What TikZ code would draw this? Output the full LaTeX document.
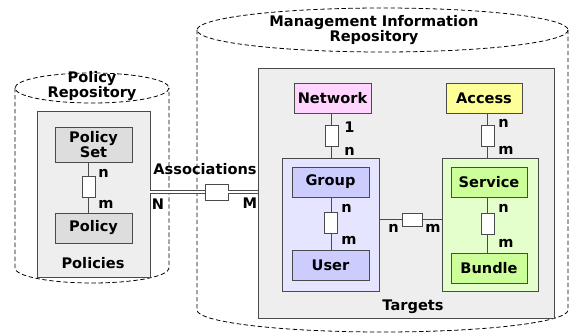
\documentclass[tikz,border=0pt]{standalone}
\usepackage{fontspec}
\setmainfont{DejaVu Sans}
\usepackage{xcolor}
\usepackage{tikz}

\definecolor{edge}{HTML}{4A4A4A}
\definecolor{panel}{HTML}{EEEEEE}
\definecolor{graybox}{HTML}{DDDDDD}
\definecolor{pinkbox}{HTML}{FFD5FF}
\definecolor{yellowbox}{HTML}{FFFF99}
\definecolor{bluepanel}{HTML}{E5E5FF}
\definecolor{bluebox}{HTML}{CCCCFF}
\definecolor{greenpanel}{HTML}{E5FFCC}
\definecolor{greenbox}{HTML}{CCFF99}

\tikzset{
    repo/.style={line width=0.45pt, dash pattern=on 2.5pt off 1.5pt},
    panel/.style={draw=edge, line width=0.5pt, inner sep=0pt},
    entity/.style={draw=edge, line width=0.5pt, align=center, inner sep=0pt,
        minimum width=1.54cm, minimum height=0.6cm},
    linkbox/.style={draw=edge, fill=white, line width=0.5pt, inner sep=0pt,
        minimum width=0.26cm, minimum height=0.42cm},
    card/.style={anchor=west, inner sep=0pt},
    wire/.style={draw=edge, line width=0.5pt},
}

\begin{document}
\begin{tikzpicture}[x=0.02cm, y=-0.02cm, font=\fontsize{8.3}{8.8}\selectfont\bfseries]
    \useasboundingbox (0, 0) rectangle (571, 334);

    % repositories
    \draw[repo] (92, 88) ellipse [x radius=77, y radius=15];
    \draw[repo] (15, 88) -- (15, 268) arc[start angle=180, end angle=0, x radius=77, y radius=15] -- (169, 88);
    \draw[repo] (382.5, 30) ellipse [x radius=185.5, y radius=22];
    \draw[repo] (197, 30) -- (197, 310) arc[start angle=180, end angle=0, x radius=185.5, y radius=22] -- (568, 30);

    \node[align=center] at (92, 86) (prtitle) {Policy\\Repository};
    \node[align=center] at (374, 30) (mirtitle) {Management Information\\Repository};

    % policies
    \node[panel, fill=panel, minimum width=2.26cm, minimum height=3.32cm] at (93.5, 194) (policies) {};
    \node[entity, fill=graybox, minimum height=0.7cm] at (93.5, 144.5) (set) {Policy\\Set};
    \node[entity, fill=graybox] at (93.5, 228) (policy) {Policy};
    \node[linkbox] at (88.5, 186.5) (setlink) {};
    \node[] at (93, 263) (poltext) {Policies};

    \draw[wire] (setlink) -- (setlink |- set.south);
    \draw[wire] (setlink) -- (setlink |- policy.north);
    \node[card] at (98, 173) (setn) {n};
    \node[card] at (98, 204) (setm) {m};

    % targets
    \node[panel, fill=panel, minimum width=5.92cm, minimum height=5cm] at (406, 193) (targets) {};
    \node[] at (413, 307) (tartext) {Targets};

    \node[entity, fill=pinkbox] at (332.5, 98) (network) {Network};
    \node[entity, fill=yellowbox, minimum width=1.52cm] at (484, 98) (access) {Access};

    \node[panel, fill=bluepanel, minimum width=1.94cm, minimum height=2.66cm] at (330.5, 224.5) (groups) {};
    \node[entity, fill=bluebox] at (330.5, 182) (group) {Group};
    \node[entity, fill=bluebox] at (330.5, 265) (user) {User};

    \node[panel, fill=greenpanel, minimum width=1.92cm, minimum height=2.66cm] at (490, 224.5) (services) {};
    \node[entity, fill=greenbox, minimum width=1.52cm] at (489, 182) (service) {Service};
    \node[entity, fill=greenbox, minimum width=1.52cm] at (489, 268) (bundle) {Bundle};

    \node[linkbox] at (331.5, 135.5) (netlink) {};
    \node[linkbox] at (331, 222.5) (grplink) {};
    \node[linkbox] at (487.5, 135.5) (acclink) {};
    \node[linkbox] at (487.5, 223.5) (svclink) {};
    \node[linkbox, minimum width=0.4cm, minimum height=0.26cm] at (412, 219.5) (crosslink) {};

    \draw[wire] (netlink) -- (netlink |- network.south);
    \draw[wire] (netlink) -- (netlink |- groups.north);
    \draw[wire] (grplink) -- (grplink |- group.south);
    \draw[wire] (grplink) -- (grplink |- user.north);
    \draw[wire] (acclink) -- (acclink |- access.south);
    \draw[wire] (acclink) -- (acclink |- services.north);
    \draw[wire] (svclink) -- (svclink |- service.south);
    \draw[wire] (svclink) -- (svclink |- bundle.north);
    \draw[wire] (crosslink) -- (crosslink -| groups.east);
    \draw[wire] (crosslink) -- (crosslink -| services.west);

    \node[card] at (344, 127) (net1) {1};
    \node[card] at (344, 151) (netn) {n};
    \node[card] at (341, 208) (grpn) {n};
    \node[card] at (341, 240) (grpm) {m};
    \node[card] at (498, 123) (accn) {n};
    \node[card] at (498, 150) (accm) {m};
    \node[card] at (498, 208) (svcn) {n};
    \node[card] at (498, 243) (svcm) {m};
    \node[card] at (388, 228) (crossn) {n};
    \node[card] at (425, 228) (crossm) {m};

    % associations
    \node[linkbox, minimum width=0.46cm, minimum height=0.32cm] at (216.5, 192) (assoc) {};
    \draw[wire, double=white, double distance=0.9pt] (assoc) -- (assoc -| policies.east);
    \draw[wire, double=white, double distance=0.9pt] (assoc) -- (assoc -| targets.west);
    \node[] at (205, 169) (assoctext) {Associations};
    \node[] at (158, 204) (assocn) {N};
    \node[] at (250, 203) (assocm) {M};
\end{tikzpicture}
\end{document}
